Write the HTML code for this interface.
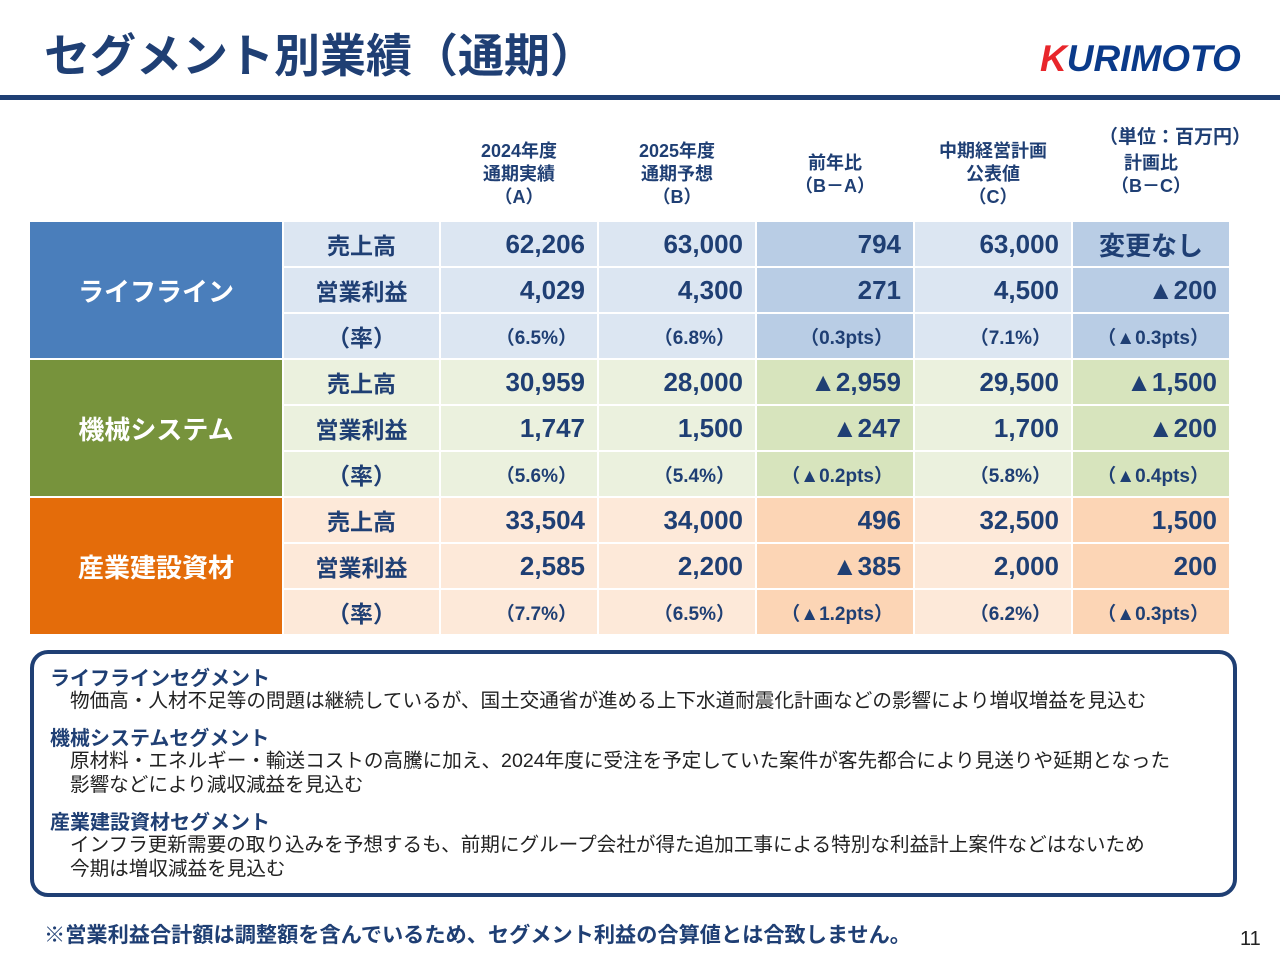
<!DOCTYPE html>
<html><head><meta charset="utf-8"><style>
body{margin:0;width:1280px;height:960px;background:#fff;position:relative;overflow:hidden;font-family:"Liberation Sans","Noto Sans CJK JP",sans-serif;color:#1f3f74}
.a{position:absolute}
.c{position:absolute;display:flex;align-items:center;font-weight:bold;box-sizing:border-box}
.hd{position:absolute;text-align:center;font-weight:bold;font-size:18px;line-height:23px;width:156px}
.n{font-size:26px;justify-content:flex-end;padding-right:12px}
.p{font-size:19px;justify-content:flex-end;padding-right:20px}
.l{justify-content:center;font-size:23px}
.s{justify-content:center;color:#fff;font-size:26px}
.box{left:30px;top:650px;width:1207px;height:247px;border:4px solid #1f3f74;border-radius:18px;box-sizing:border-box}
.bt{position:absolute;left:50px;font-weight:bold;font-size:20px}
.bd{position:absolute;left:70px;font-size:19.6px;line-height:24px;color:#222;white-space:nowrap}
</style></head><body>
<div class="a" style="left:44px;top:20px;font-size:46px;font-weight:bold;color:#1f3f74">セグメント別業績（通期）</div>
<div class="a" style="left:1040px;top:38px;font-size:37px;font-weight:bold;font-style:italic;color:#0a3a8a;letter-spacing:0px"><span style="color:#e8262b">K</span>URIMOTO</div>
<div class="a" style="left:0;top:95px;width:1280px;height:5px;background:#1f3f74"></div>
<div class="hd" style="left:441px;top:140px">2024年度<br>通期実績<br>（A）</div>
<div class="hd" style="left:599px;top:140px">2025年度<br>通期予想<br>（B）</div>
<div class="hd" style="left:757px;top:152px">前年比<br>（B－A）</div>
<div class="hd" style="left:915px;top:140px">中期経営計画<br>公表値<br>（C）</div>
<div class="hd" style="left:1073px;top:152px">計画比<br>（B－C）</div>
<div class="hd" style="left:1085px;top:126px;width:180px;font-size:19px">（単位：百万円）</div>
<div id="t"></div>
<div class="a box"></div>
<div class="bt" style="top:662px">ライフラインセグメント</div>
<div class="bd" style="top:689px">物価高・人材不足等の問題は継続しているが、国土交通省が進める上下水道耐震化計画などの影響により増収増益を見込む</div>
<div class="bt" style="top:722px">機械システムセグメント</div>
<div class="bd" style="top:749px">原材料・エネルギー・輸送コストの高騰に加え、2024年度に受注を予定していた案件が客先都合により見送りや延期となった<br>影響などにより減収減益を見込む</div>
<div class="bt" style="top:806px">産業建設資材セグメント</div>
<div class="bd" style="top:833px">インフラ更新需要の取り込みを予想するも、前期にグループ会社が得た追加工事による特別な利益計上案件などはないため<br>今期は増収減益を見込む</div>
<div class="a" style="left:44px;top:918px;font-size:21.2px;font-weight:bold">※営業利益合計額は調整額を含んでいるため、セグメント利益の合算値とは合致しません。</div>
<div class="a" style="left:1240px;top:928px;font-size:20px;color:#222">11</div>
<script>
const segments=["ライフライン","機械システム","産業建設資材"];
const rowLabels=["売上高","営業利益","（率）"];
const values=[
[["62,206","63,000","794","63,000","変更なし"],["4,029","4,300","271","4,500","▲200"],["（6.5%）","（6.8%）","（0.3pts）","（7.1%）","（▲0.3pts）"]],
[["30,959","28,000","▲2,959","29,500","▲1,500"],["1,747","1,500","▲247","1,700","▲200"],["（5.6%）","（5.4%）","（▲0.2pts）","（5.8%）","（▲0.4pts）"]],
[["33,504","34,000","496","32,500","1,500"],["2,585","2,200","▲385","2,000","200"],["（7.7%）","（6.5%）","（▲1.2pts）","（6.2%）","（▲0.3pts）"]]];
const segCol=["#4a7ebb","#77933c","#e46c0a"],light=["#dce6f2","#ebf1de","#fde9d9"],dark=["#b9cde5","#d7e4bd","#fcd5b5"];
const t=document.getElementById('t');
function cell(x,y,w,h,bg,cls,txt){const d=document.createElement('div');d.className='c '+cls;d.style.cssText=`left:${x}px;top:${y}px;width:${w}px;height:${h}px;background:${bg}`;d.textContent=txt;t.appendChild(d);return d;}
segments.forEach((s,g)=>{
 const y0=222+g*138;
 const sc=cell(30,y0,252,136,segCol[g],'s',s);
 
 
 rowLabels.forEach((r,i)=>{
  const y=y0+i*46;
  const lc=cell(284,y,155,44,light[g],'l',r);
  
  
  values[g][i].forEach((v,j)=>{
   const bg=(j==2||j==4)?dark[g]:light[g];
   const vc=cell(441+j*158,y,156,44,bg,i==2?'p':'n',v);
   if(j==4&&v=="変更なし"){vc.style.justifyContent='center';vc.style.paddingRight='0';}
   
   
  });
 });
});
</script>
</body></html>
